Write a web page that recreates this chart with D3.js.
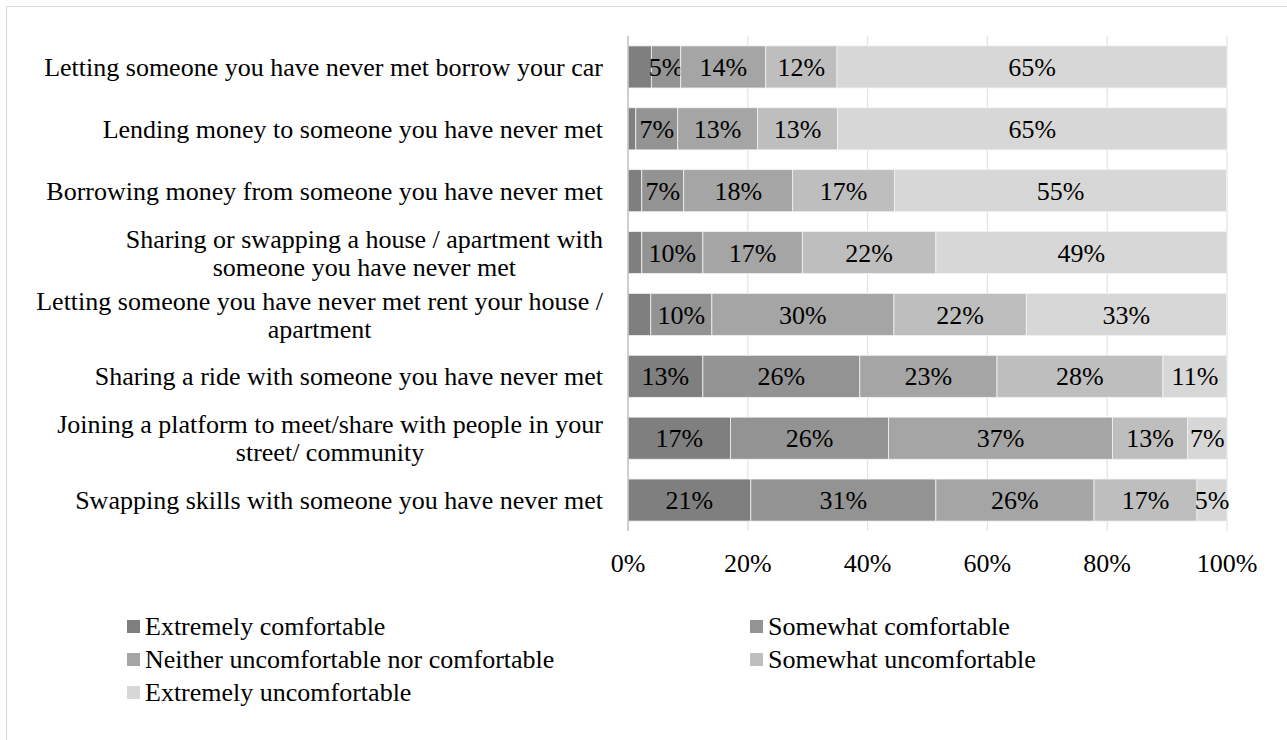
<!DOCTYPE html>
<html>
<head>
<meta charset="utf-8">
<script src="https://cdn.jsdelivr.net/npm/d3@7"></script>
<style>
  body { margin: 0; background: #fff; }
  svg text { font-family: "Liberation Serif", "Times New Roman", serif; fill: #000; }
</style>
</head>
<body>
<svg id="chart" width="1287" height="740"></svg>
<script>
'use strict';

var categories = [
    'Letting someone you have never met borrow your car',
    'Lending money to someone you have never met',
    'Borrowing money from someone you have never met',
    'Sharing or swapping a house / apartment with|someone you have never met',
    'Letting someone you have never met rent your house /|apartment',
    'Sharing a ride with someone you have never met',
    'Joining a platform to meet/share with people in your|street/ community',
    'Swapping skills with someone you have never met'
];

var seriesNames = [
    'Extremely comfortable',
    'Somewhat comfortable',
    'Neither uncomfortable nor comfortable',
    'Somewhat uncomfortable',
    'Extremely uncomfortable'
];

// percentages per category, same order as categories
var extremelyComfortable   = [3.9, 1.3, 2.3, 2.3, 3.8, 12.5, 17.1, 20.5];
var somewhatComfortable    = [4.9, 7.0, 7.0, 10.2, 10.2, 26.2, 26.4, 30.9];
var neither                = [14.2, 13.3, 18.2, 16.6, 30.4, 22.9, 37.4, 26.4];
var somewhatUncomfortable  = [11.9, 13.4, 17.0, 22.3, 22.1, 27.7, 12.5, 17.2];
var extremelyUncomfortable = [65.1, 65.0, 55.4, 48.6, 33.4, 10.7, 6.6, 5.0];

var xTicks = [0, 20, 40, 60, 80, 100];
var colors = ['#7f7f7f', '#939393', '#a5a5a5', '#bebebe', '#d7d7d7'];

var seriesValues = [extremelyComfortable, somewhatComfortable, neither,
    somewhatUncomfortable, extremelyUncomfortable];

var rows = categories.map(function(c, i) {
    var r = { cat: c };
    seriesNames.forEach(function(s, j) { r[s] = seriesValues[j][i]; });
    return r;
});

var svg = d3.select('#chart');
var fontSize = 26;

// outer frame
svg.append('rect')
    .attr('x', 6.5).attr('y', 6.5)
    .attr('width', 1300).attr('height', 760)
    .attr('fill', 'none')
    .attr('stroke', '#d9d9d9');

var x = d3.scaleLinear().domain([0, 100]).range([628, 1227]);
var y = d3.scaleBand().domain(categories).range([36, 531])
    .paddingInner(0.32).paddingOuter(0.16);

// gridlines
svg.append('g').selectAll('line')
    .data(xTicks.slice(1))
    .enter().append('line')
    .attr('x1', function(d) { return x(d); })
    .attr('x2', function(d) { return x(d); })
    .attr('y1', 36).attr('y2', 531)
    .attr('stroke', '#e3e3e3')
    .attr('stroke-width', 1.2);

var stack = d3.stack().keys(seriesNames);
var layers = stack(rows);

var layer = svg.append('g').selectAll('g')
    .data(layers)
    .enter().append('g')
    .attr('fill', function(d, i) { return colors[i]; });

layer.selectAll('rect')
    .data(function(d) { return d; })
    .enter().append('rect')
    .attr('x', function(d) { return x(d[0]); })
    .attr('width', function(d) { return x(d[1]) - x(d[0]); })
    .attr('y', function(d) { return y(d.data.cat); })
    .attr('height', y.bandwidth())
    .attr('stroke', '#f2f2f2')
    .attr('stroke-width', 0.8);

layer.selectAll('text')
    .data(function(d) { return d.filter(function(p) { return Math.round(p[1] - p[0]) >= 5; }); })
    .enter().append('text')
    .attr('x', function(d) { return x((d[0] + d[1]) / 2); })
    .attr('y', function(d) { return y(d.data.cat) + y.bandwidth() / 2; })
    .attr('dy', '0.35em')
    .attr('text-anchor', 'middle')
    .style('font-size', fontSize + 'px')
    .text(function(d) { return Math.round(d[1] - d[0]) + '%'; });

// category axis line
svg.append('line')
    .attr('x1', 628).attr('x2', 628)
    .attr('y1', 36).attr('y2', 531)
    .attr('stroke', '#bfbfbf')
    .attr('stroke-width', 1.5);

// category labels (wrapped ones are centred under the first line, like Excel)
var labelRight = 603;
var lineGap = 28;
var catG = svg.append('g');
categories.forEach(function(c) {
    var lines = c.split('|');
    var cy = y(c) + y.bandwidth() / 2;
    var t = catG.append('text')
        .attr('x', labelRight).attr('y', cy).attr('dy', '0.35em')
        .attr('text-anchor', 'end')
        .style('font-size', fontSize + 'px')
        .text(lines[0]);
    if (lines.length > 1) {
        var w = t.node().getComputedTextLength();
        var cx = labelRight - w / 2;
        t.text(null).attr('text-anchor', 'middle').attr('x', cx).attr('dy', null);
        lines.forEach(function(l, k) {
            t.append('tspan')
                .attr('x', cx)
                .attr('y', cy + (k - (lines.length - 1) / 2) * lineGap)
                .attr('dy', '0.35em')
                .text(l);
        });
    }
});

// x axis tick labels
svg.append('g').selectAll('text')
    .data(xTicks)
    .enter().append('text')
    .attr('x', function(d) { return x(d); })
    .attr('y', 563).attr('dy', '0.35em')
    .attr('text-anchor', 'middle')
    .style('font-size', fontSize + 'px')
    .text(function(d) { return d + '%'; });

// legend
var legendPos = [[127, 626], [750, 626], [127, 659], [750, 659], [127, 692]];
var legend = svg.append('g').selectAll('g')
    .data(seriesNames)
    .enter().append('g')
    .attr('transform', function(d, i) { return 'translate(' + legendPos[i][0] + ',' + legendPos[i][1] + ')'; });

legend.append('rect')
    .attr('x', 0).attr('y', -6)
    .attr('width', 13).attr('height', 13)
    .attr('fill', function(d, i) { return colors[i]; });

legend.append('text')
    .attr('x', 18).attr('y', 0).attr('dy', '0.35em')
    .style('font-size', fontSize + 'px')
    .text(function(d) { return d; });
</script>
</body>
</html>
